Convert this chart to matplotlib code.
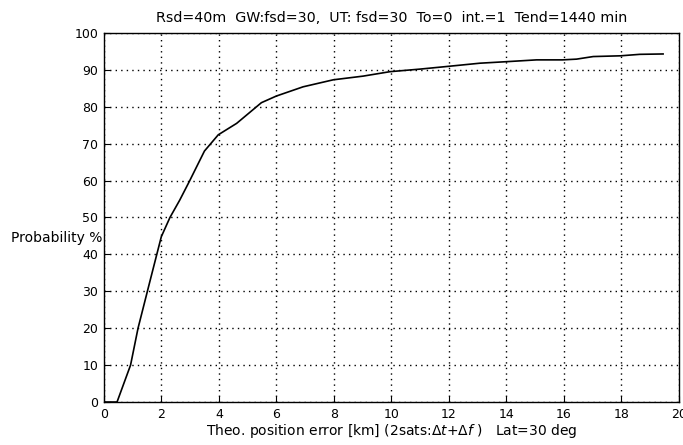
import numpy as np
import matplotlib
matplotlib.use('Agg')
import matplotlib.pyplot as plt

# data
err_km = [0, 0.46, 0.93, 1.19, 1.6, 2.0, 2.3, 2.64, 2.97, 3.5, 3.98, 4.62, 5.48, 6.0,
          6.93, 7.98, 9.02, 9.95, 11.0, 11.92, 13.08, 13.98, 15.05, 15.95, 16.44,
          17.02, 17.97, 18.64, 19.45]
prob = [0, 0, 10, 20, 32.6, 44.8, 50, 54.7, 59.7, 68, 72.4, 75.5, 81.1, 82.9,
        85.4, 87.3, 88.3, 89.5, 90.2, 90.9, 91.8, 92.2, 92.7, 92.7, 92.9,
        93.6, 93.8, 94.2, 94.3]

x_ticks = list(range(0, 21, 2))
y_ticks = list(range(0, 101, 10))

title = 'Rsd=40m  GW:fsd=30,  UT: fsd=30  To=0  int.=1  Tend=1440 min'
xlabel = r'Theo. position error [km] (2sats:$\Delta t$+$\Delta f$ )   Lat=30 deg'
ylabel = 'Probability %'

plt.rcParams['font.family'] = ['DejaVu Sans']

fig = plt.figure(figsize=(6.83, 4.45), dpi=100)
ax = fig.add_axes([0.152, 0.0966, 0.842, 0.8294])

ax.plot(err_km, prob, color='black', lw=1.2)

ax.set_xlim(0, 20)
ax.set_ylim(0, 100)
ax.set_xticks(x_ticks)
ax.set_yticks(y_ticks)
ax.tick_params(direction='in', length=4, labelsize=9, colors='black', pad=4)
ax.grid(True, linestyle=(0, (1, 3)), color='black', lw=1.0)

for s in ax.spines.values():
    s.set_color('black')
    s.set_linewidth(1.0)

ax.set_title(title, fontsize=10.3, pad=8)
ax.set_xlabel(xlabel, fontsize=10, labelpad=1)
fig.text(102 / 683, 1 - 238 / 445, ylabel, fontsize=10, ha='right', va='center')

fig.savefig('out.png', dpi=100)
